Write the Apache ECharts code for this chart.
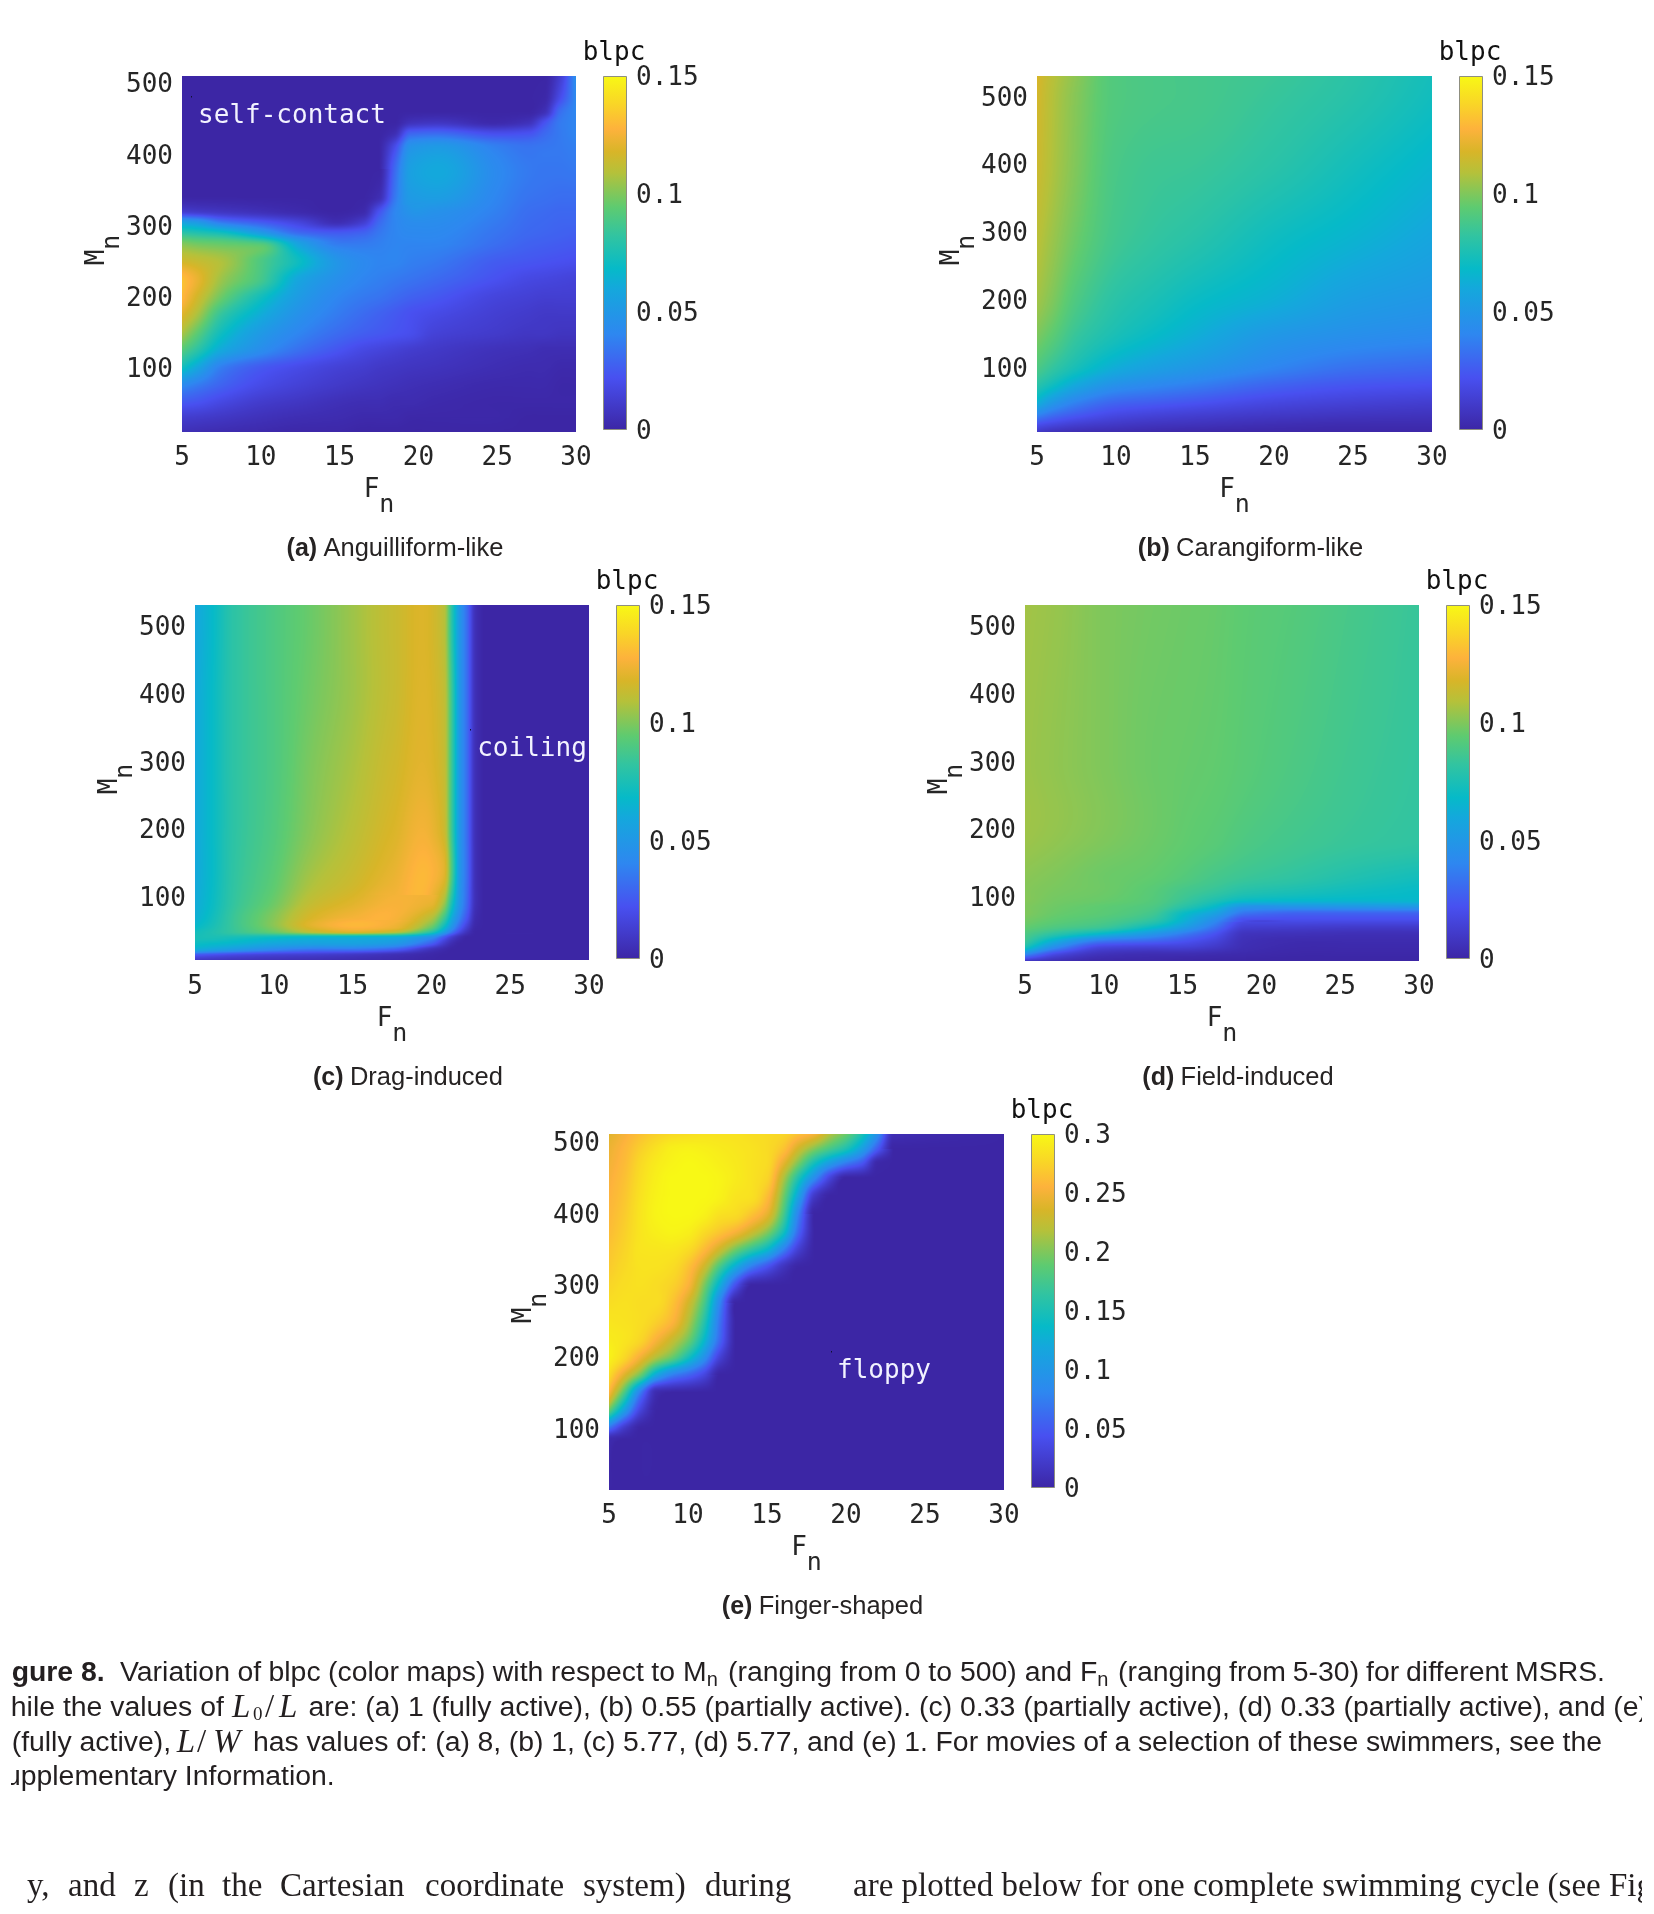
<!DOCTYPE html>
<html>
<head>
<meta charset="utf-8">
<title>blpc colour maps</title>
<script src="https://cdn.jsdelivr.net/npm/echarts@6/dist/echarts.min.js"></script>
<style>
html,body{margin:0;padding:0;background:#fff}
#chart{width:1654px;height:1914px}
</style>
</head>
<body>
<div id="chart"></div>
<script>
// Sampled blpc grids, in thousandths. Rows run from the largest Mn down to the smallest.
const fnA = [5,6,7.5,10,12.5,15,16.5,17.5,18.5,19.5,21,25,27,28,29,30];
const mnA = [510,480,460,445,430,410,380,340,320,305,290,275,250,225,200,175,150,125,100,75,50,30,10];
const blpcA = [
[0,0,0,0,0,0,0,0,0,0,0,0,0,0,12,45],
[0,0,0,0,0,0,0,0,0,0,0,0,0,1,20,42],
[0,0,0,0,0,0,0,0,0,0,0,0,0,5,32,41],
[0,0,0,0,0,0,0,0,0,6,8,2,6,22,36,40],
[0,0,0,0,0,0,0,0,4,28,30,20,22,30,36,40],
[0,0,0,0,0,0,0,0,20,48,52,38,34,35,36,38],
[0,0,0,0,0,0,0,0,30,55,60,42,36,35,35,36],
[0,0,0,0,0,0,0,4,35,52,54,40,34,33,32,32],
[12,10,8,5,2,0,2,22,40,48,47,38,32,31,30,30],
[55,50,35,25,15,4,12,30,40,44,44,36,31,30,29,29],
[80,77,72,52,30,25,28,35,40,42,42,34,30,29,28,27],
[100,97,95,90,55,36,36,38,40,40,40,32,28,27,26,25],
[116,113,108,90,70,48,42,40,40,38,36,26,24,23,22,21],
[132,122,105,88,58,45,40,38,36,34,31,22,18,17,16,15],
[130,116,97,73,52,40,36,34,31,28,25,16,14,13,13,13],
[120,107,83,62,46,36,31,28,25,22,19,13,11,10,10,10],
[108,94,72,52,40,31,27,25,23,21,15,11,9,9,8,8],
[92,80,60,44,32,23,18,16,14,12,10,6,5,4,4,4],
[72,58,37,25,19,14,12,10,9,8,7,4,3,3,2,2],
[42,36,28,19,14,10,8,7,6,5,4,2,2,2,1,1],
[24,22,17,11,8,5,4,4,3,3,2,1,1,1,1,1],
[12,11,9,6,4,3,2,2,2,1,1,1,0,0,0,0],
[5,4,3,2,1,1,0,0,0,0,0,0,0,0,0,0]
];

const fnB = [5,6,7.5,10,12.5,15,20,25,30];
const mnB = [530,500,400,300,200,150,100,75,50,30,15,5];
const blpcB = [
[118,110,102,91,89,88,85,80,73],
[117,109,101,91,89,88,84,79,72],
[115,108,100,89,86,85,80,73,66],
[111,105,97,87,83,80,72,66,59],
[106,100,90,80,75,70,63,54,50],
[100,94,84,75,69,63,51,46,43],
[90,83,74,62,55,50,40,33,30],
[80,72,60,47,42,38,29,24,22],
[65,52,40,30,27,24,18,15,13],
[40,32,25,18,15,13,10,8,7],
[20,16,12,9,7,6,4,3,3],
[10,6,4,3,2,1,1,1,1]
];

const fnC = [5,6,7.5,10,12.5,15,17.5,20,20.8,21.3,21.8,22.3,22.8,23.3,30];
const mnC = [531,500,400,300,200,120,90,70,55,48,40,30,22,14,6];
const blpcC = [
[59,67,81,90,97,105,113,117,110,80,50,30,5,0,0],
[59,67,81,90,97,105,113,117,110,80,50,30,5,0,0],
[60,68,81,90,98,105,113,118,112,85,50,30,5,0,0],
[60,68,81,90,100,107,115,119,113,85,50,30,5,0,0],
[60,68,81,91,102,110,118,123,115,85,50,30,5,0,0],
[60,68,82,94,108,115,123,127,118,87,50,30,5,0,0],
[61,69,83,97,113,120,126,122,105,75,48,28,5,0,0],
[63,71,85,101,118,125,127,110,88,62,40,22,3,0,0],
[68,74,85,101,120,128,124,96,70,48,28,12,1,0,0],
[72,76,84,96,112,120,113,80,55,35,18,6,0,0,0],
[74,75,74,70,66,64,62,45,25,12,4,0,0,0,0],
[70,68,65,58,55,55,50,25,10,3,0,0,0,0,0],
[62,58,52,42,35,35,28,6,2,0,0,0,0,0,0],
[25,22,18,14,12,9,5,1,0,0,0,0,0,0,0],
[8,7,6,5,4,3,2,0,0,0,0,0,0,0,0]
];

const fnD = [5,7,10,13,15,17,19,22,26,30];
const mnD = [531,300,184,130,110,95,85,75,65,55,45,35,25,15,5];
const blpcD = [
[106,104,100,98,97,96,94,92,88,84],
[105,103,100,97,96,95,93,90,86,83],
[105,103,100,97,95,93,90,87,84,82],
[102,100,97,95,92,88,85,82,77,73],
[101,99,97,93,88,84,79,76,72,69],
[101,98,96,92,85,77,70,68,67,67],
[100,97,94,90,80,68,48,48,49,50],
[100,96,93,87,70,56,33,28,28,28],
[98,94,90,82,65,44,20,20,20,20],
[95,90,85,70,55,34,13,12,11,11],
[90,80,66,50,37,23,7,6,5,5],
[86,62,36,30,24,16,5,3,3,3],
[75,42,16,14,14,10,4,2,2,2],
[42,18,6,4,4,3,2,1,1,1],
[8,4,1,1,0,0,0,0,0,0]
];

const fnE = [5,6,7,8,9,10,11,12,13,14,15,16,17,18,19,20,21,22,23,30];
const mnE = [511,490,470,450,425,400,375,350,325,300,275,250,225,200,175,150,125,100,85,14];
const blpcE = [
[240,252,264,273,279,282,285,285,285,282,280,277,265,252,218,193,153,92,9,0],
[246,258,273,285,294,296,294,291,288,285,280,266,231,200,175,151,110,50,0,0],
[249,261,279,291,297,300,298,294,290,285,280,245,197,145,104,72,48,2,0,0],
[252,264,282,294,300,300,300,297,291,285,276,220,154,89,31,0,0,0,0,0],
[255,267,285,296,300,300,300,296,287,284,263,200,113,21,0,0,0,0,0,0],
[258,270,287,297,300,300,296,285,281,267,245,182,78,0,0,0,0,0,0,0],
[261,273,287,294,297,294,281,268,254,232,204,151,59,0,0,0,0,0,0,0],
[266,276,287,288,288,281,261,231,196,166,137,81,26,0,0,0,0,0,0,0],
[270,279,285,285,281,265,231,176,121,73,44,15,0,0,0,0,0,0,0,0],
[276,282,284,281,274,255,201,126,44,0,0,0,0,0,0,0,0,0,0,0],
[282,284,282,281,266,234,180,83,0,0,0,0,0,0,0,0,0,0,0,0],
[287,285,282,273,257,219,161,69,0,0,0,0,0,0,0,0,0,0,0,0],
[291,287,277,254,229,197,139,61,0,0,0,0,0,0,0,0,0,0,0,0],
[296,278,250,219,193,150,97,30,0,0,0,0,0,0,0,0,0,0,0,0],
[282,239,194,120,78,59,35,0,0,0,0,0,0,0,0,0,0,0,0,0],
[256,176,72,6,0,0,0,0,0,0,0,0,0,0,0,0,0,0,0,0],
[190,106,30,0,0,0,0,0,0,0,0,0,0,0,0,0,0,0,0,0],
[63,19,0,0,0,0,0,0,0,0,0,0,0,0,0,0,0,0,0,0],
[6,0,0,0,0,0,0,0,0,0,0,0,0,0,0,0,0,0,0,0],
[0,0,0,0,0,0,0,0,0,0,0,0,0,0,0,0,0,0,0,0]
];

// Axis ticks and colour scales.
const fnTicks = [5,10,15,20,25,30];
const mnTicks = [100,200,300,400,500];
const barTicksLow = [0.05,0.1];
const barTicksHigh = [0.05,0.1,0.15,0.2,0.25];
const blpcMaxLow = 0.15;
const blpcMaxHigh = 0.3;
const blpcStep = 0.05;

const captionA = 'Anguilliform-like', captionB = 'Carangiform-like', captionC = 'Drag-induced',
      captionD = 'Field-induced', captionE = 'Finger-shaped';

const INK = '#262626';
const MONO = '"DejaVu Sans Mono", monospace';
const TICK_SIZE = 26;

// Panel layout, in page pixels.
const panels = [
  {fn:fnA,mn:mnA,v:blpcA,max:blpcMaxLow,ticks:barTicksLow,tag:'(a)',cap:captionA,left:182,top:76,w:394,h:356,barLeft:603,barH:354,
   yMin:10,yMax:510,note:{t:'self-contact',x:292,y:116,dx:191,dy:96}},
  {fn:fnB,mn:mnB,v:blpcB,max:blpcMaxLow,ticks:barTicksLow,tag:'(b)',cap:captionB,left:1037,top:76,w:395,h:356,barLeft:1459,barH:354,
   yMin:5,yMax:530},
  {fn:fnC,mn:mnC,v:blpcC,max:blpcMaxLow,ticks:barTicksLow,tag:'(c)',cap:captionC,left:195,top:605,w:394,h:356,barLeft:616,barH:354,
   yMin:5,yMax:531,note:{t:'coiling',x:532,y:749,dx:470,dy:729}},
  {fn:fnD,mn:mnD,v:blpcD,max:blpcMaxLow,ticks:barTicksLow,tag:'(d)',cap:captionD,left:1025,top:605,w:394,h:356,barLeft:1446,barH:354,
   yMin:5,yMax:531},
  {fn:fnE,mn:mnE,v:blpcE,max:blpcMaxHigh,ticks:barTicksHigh,tag:'(e)',cap:captionE,left:609,top:1134,w:395,h:356,barLeft:1031,barH:354,
   yMin:14,yMax:511,note:{t:'floppy',x:884,y:1371,dx:831,dy:1351}}
];

// Colour map key points: position on the scale, then red, green, blue.
const cmapAt  = [0,0.147,0.27,0.40,0.456,0.55,0.63,0.727,0.786,0.85,0.92,1];
const cmapRgb = [[60,38,165],[72,80,240],[46,135,240],[20,168,220],[6,186,200],[50,196,160],
                 [94,203,112],[181,193,58],[216,181,40],[253,178,60],[249,213,39],[248,248,21]];
const lut = [];
for (let i = 0; i < 512; i++) {
  const t = i / 511;
  let k = 0;
  while (k < cmapAt.length - 2 && t > cmapAt[k + 1]) k++;
  const f = (t - cmapAt[k]) / (cmapAt[k + 1] - cmapAt[k]);
  lut.push(cmapRgb[k].map((c, n) => c + (cmapRgb[k + 1][n] - c) * f));
}

// Slope at a sample: limited on steady runs, three-point at plateaus and extrema.
function nodeSlope(a, b, ha, hb) {
  if (a * b > 0) return 2 * a * b / (a + b);
  return (hb * a + ha * b) / (ha + hb);
}
// Cubic through four neighbouring samples; evaluates between the middle two.
function cubic(x0, x1, x2, x3, y0, y1, y2, y3, x) {
  const h = x2 - x1, s = (y2 - y1) / h;
  const h0 = x1 - x0, h2 = x3 - x2;
  const m1 = h0 > 0 ? nodeSlope((y1 - y0) / h0, s, h0, h) : s;
  const m2 = h2 > 0 ? nodeSlope(s, (y3 - y2) / h2, h, h2) : s;
  const u = (x - x1) / h, u2 = u * u, u3 = u2 * u;
  return (2 * u3 - 3 * u2 + 1) * y1 + (u3 - 2 * u2 + u) * h * m1 + (-2 * u3 + 3 * u2) * y2 + (u3 - u2) * h * m2;
}

// Interpolated shading of one grid patch between rows j (lower Mn) and j + 1 (higher Mn),
// scanned from the top edge down.
function shadePatch(q, i, j, ox, oy, pw, ph, W, H) {
  const fn = q.fn, mn = q.mn, v = q.v;
  const cv = document.createElement('canvas');
  cv.width = W; cv.height = H;
  const ctx = cv.getContext('2d'), img = ctx.createImageData(W, H);
  const ic = [Math.max(i - 1, 0), i, i + 1, Math.min(i + 2, fn.length - 1)];
  const jr = [Math.max(j - 1, 0), j, j + 1, Math.min(j + 2, mn.length - 1)];
  for (let y = 0; y < H; y++) {
    const f = (y + 0.5 - oy) / ph;
    const my = mn[j + 1] + f * (mn[j] - mn[j + 1]);
    const col = ic.map(c => cubic(mn[jr[0]], mn[jr[1]], mn[jr[2]], mn[jr[3]],
      v[jr[0]][c], v[jr[1]][c], v[jr[2]][c], v[jr[3]][c], my));
    for (let x = 0; x < W; x++) {
      const fx = fn[i] + (x + 0.5 - ox) / pw * (fn[i + 1] - fn[i]);
      const val = cubic(fn[ic[0]], fn[ic[1]], fn[ic[2]], fn[ic[3]], col[0], col[1], col[2], col[3], fx) / 1000;
      const t = Math.max(0, Math.min(1, val / q.max));
      const c = lut[Math.round(t * 511)], o = (y * W + x) * 4;
      img.data[o] = c[0]; img.data[o + 1] = c[1]; img.data[o + 2] = c[2]; img.data[o + 3] = 255;
    }
  }
  ctx.putImageData(img, 0, 0);
  return cv;
}

const grids = [], xAxes = [], yAxes = [], series = [], titles = [], graphics = [];

const numStyle = {fontFamily: MONO, fontSize: TICK_SIZE, color: INK};
const subName = {fontFamily: MONO, fontSize: TICK_SIZE - 1, color: INK, padding: [30, 0, 0, 0]};
const xNameRich = {a: numStyle, b: subName};
const yNameRich = {a: Object.assign({padding: [0, 0, 0, 8]}, numStyle), b: subName};
// Tick text sits a little below its tick, as rich text with top padding.
const lowered = {t: Object.assign({padding: [5, 0, 0, 0]}, numStyle)};
const lowerText = v => '{t|' + (+v.toFixed(2)) + '}';

panels.forEach((p, idx) => {
  const heatIdx = idx * 2, barIdx = idx * 2 + 1;
  grids.push({left: p.left, top: p.top, width: p.w, height: p.h});
  grids.push({left: p.barLeft, top: p.top, width: 24, height: p.barH});

  xAxes.push({
    gridIndex: heatIdx, type: 'value', min: fnTicks[0], max: fnTicks[fnTicks.length - 1], interval: 5,
    axisLine: {show: false}, axisTick: {show: false}, splitLine: {show: false},
    axisLabel: Object.assign({margin: 13}, numStyle),
    name: '{a|F}{b|n}', nameLocation: 'middle', nameGap: 31, nameTextStyle: {rich: xNameRich}
  });
  yAxes.push({
    gridIndex: heatIdx, type: 'value', min: p.yMin, max: p.yMax,
    axisLine: {show: false}, axisTick: {show: false}, splitLine: {show: false},
    axisLabel: {margin: 9, customValues: mnTicks, formatter: lowerText, rich: lowered},
    name: '{a|M}{b|n}', nameLocation: 'middle', nameGap: 57, nameMoveOverlap: false, nameTextStyle: {rich: yNameRich}
  });

  xAxes.push({gridIndex: barIdx, type: 'category', data: ['blpc'], show: false});
  yAxes.push({
    gridIndex: barIdx, type: 'value', position: 'right', min: 0, max: p.max, interval: blpcStep,
    axisLine: {show: false}, splitLine: {show: false},
    axisTick: {show: true, inside: true, length: 3, customValues: p.ticks, lineStyle: {color: '#3a3a3a', width: 1}},
    axisLabel: {margin: 9, formatter: lowerText, rich: lowered}
  });

  // One patch per pair of neighbouring samples, ascending in Mn.
  const q = {fn: p.fn, mn: p.mn.slice().reverse(), v: p.v.slice().reverse(), max: p.max};
  const patches = [];
  for (let j = 0; j < q.mn.length - 1; j++) {
    for (let i = 0; i < q.fn.length - 1; i++) {
      patches.push([q.fn[i], q.mn[j], q.fn[i + 1], q.mn[j + 1], q.v[j][i] / 1000, i, j]);
    }
  }
  series.push({
    type: 'custom', coordinateSystem: 'cartesian2d', xAxisIndex: heatIdx, yAxisIndex: heatIdx,
    silent: true, animation: false, clip: true, progressive: 0,
    encode: {x: [0, 2], y: [1, 3]}, data: patches,
    renderItem: function (params, api) {
      const tl = api.coord([api.value(0), api.value(3)]);
      const br = api.coord([api.value(2), api.value(1)]);
      const x0 = Math.round(tl[0]), y0 = Math.round(tl[1]);
      const W = Math.round(br[0]) - x0, H = Math.round(br[1]) - y0;
      if (W <= 0 || H <= 0) return null;
      const cv = shadePatch(q, api.value(5), api.value(6), tl[0] - x0, tl[1] - y0, br[0] - tl[0], br[1] - tl[1], W, H);
      return {type: 'image', style: {image: cv, x: x0, y: y0, width: W, height: H}};
    }
  });

  // Colour bar.
  const stops = cmapAt.map((at, k) => ({
    offset: 1 - at,
    color: 'rgb(' + cmapRgb[k].join(',') + ')'
  })).reverse();
  series.push({
    type: 'bar', xAxisIndex: barIdx, yAxisIndex: barIdx, data: [p.max], barWidth: '100%',
    silent: true, animation: false, z: 1,
    itemStyle: {
      color: {type: 'linear', x: 0, y: 0, x2: 0, y2: 1, colorStops: stops},
      borderColor: '#8f8f80', borderWidth: 1
    }
  });

  titles.push({text: 'blpc', left: p.barLeft + 6, top: p.top - 41, textAlign: 'center',
    textStyle: {fontFamily: MONO, fontSize: TICK_SIZE, fontWeight: 'normal', color: '#111'}});

  const capY = p.top + p.h + 117;
  const capX = p.left + p.w / 2 + 16;
  graphics.push({
    type: 'text', x: capX, y: capY, z: 50, silent: true,
    style: {
      text: '{b|' + p.tag + '} {r|' + p.cap + '}', align: 'center', verticalAlign: 'middle',
      textAlign: 'center', textVerticalAlign: 'middle',
      rich: {
        b: {font: 'bold 25px "Liberation Sans"', fill: '#262323', padding: [0, 3, 0, 0]},
        r: {font: '25.5px "Liberation Sans"', fill: '#262323'}
      }
    }
  });

  if (p.note) {
    graphics.push({type: 'text', x: p.note.x, y: p.note.y, z: 50, silent: true,
      style: {text: p.note.t, font: TICK_SIZE + 'px ' + MONO, fill: '#f2f2ff', textAlign: 'center', textVerticalAlign: 'middle'}});
    graphics.push({type: 'rect', shape: {x: p.note.dx, y: p.note.dy, width: 1, height: 1.5}, z: 50, silent: true,
      style: {fill: '#101030'}});
  }
});

// Figure caption and the running text beneath it, placed run by run.
const SANS = '"Liberation Sans"', SERIF = '"Liberation Serif"';
const capInk = '#231f20';
const measure = document.createElement('canvas').getContext('2d');
function widthOf(text, font) { measure.font = font; return measure.measureText(text).width; }
function put(text, font, x, y) {
  graphics.push({type: 'text', x: x, y: y, z: 60, silent: true,
    style: {text: text, font: font, fill: capInk, textAlign: 'left', textVerticalAlign: 'middle'}});
}
function runLine(startX, y, pieces) {
  let x = startX;
  pieces.forEach(pc => {
    if (pc.x !== undefined) x = pc.x;
    put(pc.t, pc.f, x, y + (pc.dy || 0));
    x += widthOf(pc.t, pc.f);
  });
}
// A justified run: its words are spread evenly from x0 to x1.
function spread(text, font, x0, x1, y) {
  const words = text.split(' ');
  const total = words.reduce((s, w) => s + widthOf(w, font), 0);
  const gap = (x1 - x0 - total) / (words.length - 1);
  let x = x0;
  words.forEach(w => { put(w, font, x, y); x += widthOf(w, font) + gap; });
}
const reg = '28.4px ' + SANS, bold = 'bold 28.4px ' + SANS, sub = '20px ' + SANS;
const ital = 'italic 33px ' + SERIF, upright = '33px ' + SERIF;

const LINE1 = 1673, LINE2 = 1708, LINE3 = 1743, LINE4 = 1777, BODY = 1887;
runLine(-13.6, LINE1, [{t: 'Figure 8.', f: bold}]);
spread('Variation of blpc (color maps) with respect to', reg, 120, 675, LINE1);
runLine(683, LINE1, [{t: 'M', f: reg}, {t: 'n', f: sub, dy: 7}]);
spread('(ranging from 0 to 500) and', reg, 728, 1072, LINE1);
runLine(1080, LINE1, [{t: 'F', f: reg}, {t: 'n', f: sub, dy: 7}]);
spread('(ranging from 5-30) for different MSRS.', reg, 1118, 1605, LINE1);

runLine(-16, LINE2, [{t: 'While the values of', f: reg}]);
runLine(232, LINE2, [
  {t: 'L', f: ital},
  {t: '0', f: '19px ' + SERIF, dy: 7, x: 253},
  {t: '/', f: upright, x: 265},
  {t: 'L', f: ital, x: 279}
]);
runLine(308.5, LINE2, [{t: 'are: (a) 1 (fully active), (b) 0.55 (partially active). (c) 0.33 (partially active), (d) 0.33 (partially active), and (e)', f: reg}]);

runLine(-12, LINE3, [{t: '1 (fully active),', f: reg}]);
runLine(176.7, LINE3, [{t: 'L', f: ital}, {t: '/', f: upright, x: 197}, {t: 'W', f: ital, x: 213}]);
spread('has values of: (a) 8, (b) 1, (c) 5.77, (d) 5.77, and (e) 1. For movies of a selection of these swimmers, see the', reg, 253, 1602, LINE3);

runLine(-14, LINE4, [{t: 'Supplementary Information.', f: reg}]);

const body = '33px ' + SERIF;
[['y,',27],['and',68],['z',134],['(in',168],['the',222],['Cartesian',280],['coordinate',425],['system)',583],['during',705]]
  .forEach(w => put(w[0], body, w[1], BODY));
runLine(853, BODY, [{t: 'are plotted below for one complete swimming cycle (see Figure', f: body}]);

// Page margins crop the text block on both sides.
graphics.push({type: 'rect', shape: {x: 0, y: 1640, width: 11, height: 274}, z: 70, silent: true, style: {fill: '#fff'}});
graphics.push({type: 'rect', shape: {x: 1642, y: 1640, width: 12, height: 274}, z: 70, silent: true, style: {fill: '#fff'}});

const chart = echarts.init(document.getElementById('chart'), null, {renderer: 'canvas', width: 1654, height: 1914});
chart.setOption({
  animation: false,
  backgroundColor: '#fff',
  title: titles,
  grid: grids,
  xAxis: xAxes,
  yAxis: yAxes,
  series: series,
  graphic: {elements: graphics}
});
</script>
</body>
</html>
